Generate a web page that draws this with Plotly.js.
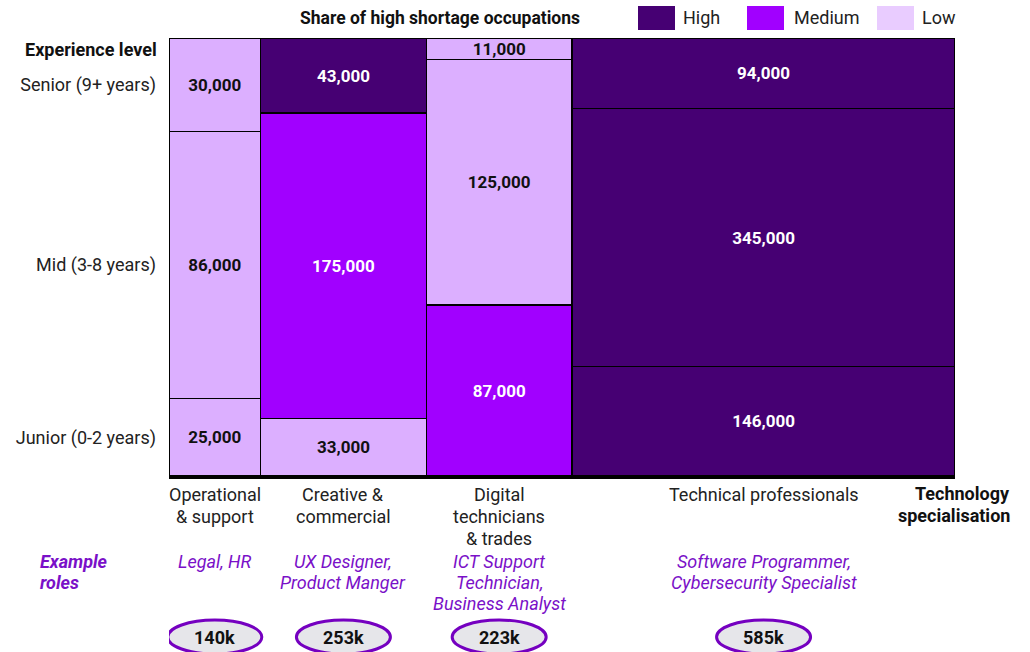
<!DOCTYPE html>
<html>
<head>
<meta charset="utf-8">
<script src="https://cdn.plot.ly/plotly-3.0.1.min.js"></script>
<style>html,body{margin:0;padding:0;background:#fff;}#chart{width:1030px;height:652px;}</style>
</head>
<body>
<div id="chart"></div>
<script>
// ---- data ----
const categories = ["Operational<br>& support", "Creative &<br>commercial", "Digital<br>technicians<br>& trades", "Technical professionals"];
const totalLabels = ["140k", "253k", "223k", "585k"];
const totals = [140, 253, 223, 585];
const exampleRoles = ["Legal, HR", "UX Designer,<br>Product Manger", "ICT Support<br>Technician,<br>Business Analyst", "Software Programmer,<br>Cybersecurity Specialist"];
const juniorValues = [25000, 33000, 87000, 146000];
const midValues = [86000, 175000, 125000, 345000];
const seniorValues = [30000, 43000, 11000, 94000];
const juniorShortage = ["Low", "Low", "Medium", "High"];
const midShortage = ["Low", "Medium", "Low", "High"];
const seniorShortage = ["Low", "High", "Low", "High"];
const levelNames = ["High", "Medium", "Low"];
const experienceLabels = ["Senior (9+ years)", "Mid (3-8 years)", "Junior (0-2 years)"];

// ---- styles ----
const levelColors = {High: "#460073", Medium: "#A100FF", Low: "#DCAFFF"};
const legendColors = {High: "#460073", Medium: "#A100FF", Low: "#E9CCFF"};
const textColors = {High: "#FFFFFF", Medium: "#FFFFFF", Low: "#111111"};
const purple = "#7A10C8";
const FONT = "Roboto, 'Noto Sans', Arial, sans-serif";
const FS = 18;

const W = 1030, H = 652;
const M = {l: 169, r: 75, t: 38, b: 176};
const plotW = W - M.l - M.r, plotH = H - M.t - M.b;
const px2x = p => (p - M.l) / plotW;         // paper x from pixel
const py2y = p => (H - M.b - p) / plotH;     // paper y from pixel

// column geometry from totals
const grand = totals.reduce((a, b) => a + b, 0);
const starts = [];
let acc = 0;
totals.forEach(t => { starts.push(acc); acc += t; });
const centers = totals.map((t, i) => starts[i] + t / 2);
const colSums = juniorValues.map((v, i) => v + midValues[i] + seniorValues[i]);
const fmt = v => v.toLocaleString("en-US");

function rowTrace(name, values, shortage) {
  return {
    type: "bar",
    name: name,
    x: centers,
    y: values.map((v, i) => v / colSums[i]),
    width: totals,
    marker: {color: shortage.map(s => levelColors[s]), line: {color: "#000", width: 1.3}},
    text: values.map(v => "<b>" + fmt(v) + "</b>"),
    textposition: "inside",
    insidetextanchor: "middle",
    textangle: 0,
    constraintext: "none",
    textfont: {family: FONT, size: 17, color: shortage.map(s => textColors[s])},
    hoverinfo: "skip",
    showlegend: false
  };
}

const traces = [
  rowTrace("Junior", juniorValues, juniorShortage),
  rowTrace("Mid", midValues, midShortage),
  rowTrace("Senior", seniorValues, seniorShortage)
];

const shapes = [];
const annotations = [];

// legend swatches
const legendX = [638, 747, 877];
const legendTextX = [681, 792, 920];
levelNames.forEach((n, i) => {
  shapes.push({type: "rect", xref: "paper", yref: "paper",
    x0: px2x(legendX[i]), x1: px2x(legendX[i] + 37), y0: py2y(30), y1: py2y(6),
    fillcolor: legendColors[n], line: {width: 0}});
  annotations.push({xref: "paper", yref: "paper", x: px2x(legendTextX[i]), y: py2y(17),
    xanchor: "left", yanchor: "middle", text: n, showarrow: false,
    font: {family: FONT, size: FS, color: "#222"}});
});

// experience level header
annotations.push({xref: "paper", yref: "paper", x: px2x(159), y: py2y(49), xanchor: "right", yanchor: "middle",
  text: "<b>Experience level</b>", showarrow: false, font: {family: FONT, size: FS, color: "#111"}});
// x axis title
["Technology", "specialisation"].forEach((t, k) => {
  annotations.push({xref: "paper", yref: "paper", x: px2x(1012), y: py2y(493 + 22 * k), xanchor: "right", yanchor: "middle",
    text: "<b>" + t + "</b>", showarrow: false, font: {family: FONT, size: FS, color: "#111"}});
});
// Example roles label
["Example", "roles"].forEach((t, k) => {
  annotations.push({xref: "paper", yref: "paper", x: px2x(38), y: py2y(561 + 21 * k), xanchor: "left", yanchor: "middle",
    text: "<b><i>" + t + "</i></b>", showarrow: false, font: {family: FONT, size: FS, color: purple}});
});

categories.forEach((c, i) => {
  // category labels (one annotation per line for tight line spacing)
  c.split("<br>").forEach((line, k) => {
    annotations.push({xref: "x", yref: "paper", x: centers[i], y: py2y(494 + 22 * k), xanchor: "center", yanchor: "middle",
      text: line, showarrow: false, font: {family: FONT, size: FS, color: "#222"}});
  });
  exampleRoles[i].split("<br>").forEach((line, k) => {
    annotations.push({xref: "x", yref: "paper", x: centers[i], y: py2y(561 + 21 * k), xanchor: "center", yanchor: "middle",
      text: "<i>" + line + "</i>", showarrow: false, font: {family: FONT, size: FS, color: purple}});
  });
  shapes.push({type: "circle", xref: "x", yref: "paper", xsizemode: "pixel", ysizemode: "pixel",
    xanchor: centers[i], yanchor: py2y(637), x0: -47, x1: 47, y0: -17, y1: 17,
    fillcolor: "#E6E6EA", line: {color: "#7500C0", width: 3}});
  annotations.push({xref: "x", yref: "paper", x: centers[i], y: py2y(637), xanchor: "center", yanchor: "middle",
    text: "<b>" + totalLabels[i] + "</b>", showarrow: false,
    font: {family: FONT, size: 18, color: "#111"}});
});

const expTickPix = [85, 265, 438];

const layout = {
  width: W, height: H,
  margin: M,
  paper_bgcolor: "#fff", plot_bgcolor: "#fff",
  barmode: "stack", bargap: 0,
  font: {family: FONT, size: FS, color: "#222"},
  title: {text: "<b>Share of high shortage occupations</b>", x: 440 / W, xanchor: "center",
    y: 1 - 18 / H, yanchor: "middle", font: {family: FONT, size: 17.5, color: "#111"}},
  xaxis: {range: [0, grand], tickvals: centers, showticklabels: false, showgrid: false, zeroline: false,
    showline: true, linecolor: "#000", linewidth: 3, ticks: "", fixedrange: true},
  yaxis: {range: [0, 1], tickvals: expTickPix.map(py2y), ticktext: experienceLabels, showgrid: false,
    zeroline: false, showline: false, ticks: "", ticklabelstandoff: 12,
    tickfont: {family: FONT, size: FS, color: "#222"}, fixedrange: true},
  shapes: shapes,
  annotations: annotations,
  showlegend: false
};

Plotly.newPlot("chart", traces, layout, {displayModeBar: false, staticPlot: true});
</script>
</body>
</html>
